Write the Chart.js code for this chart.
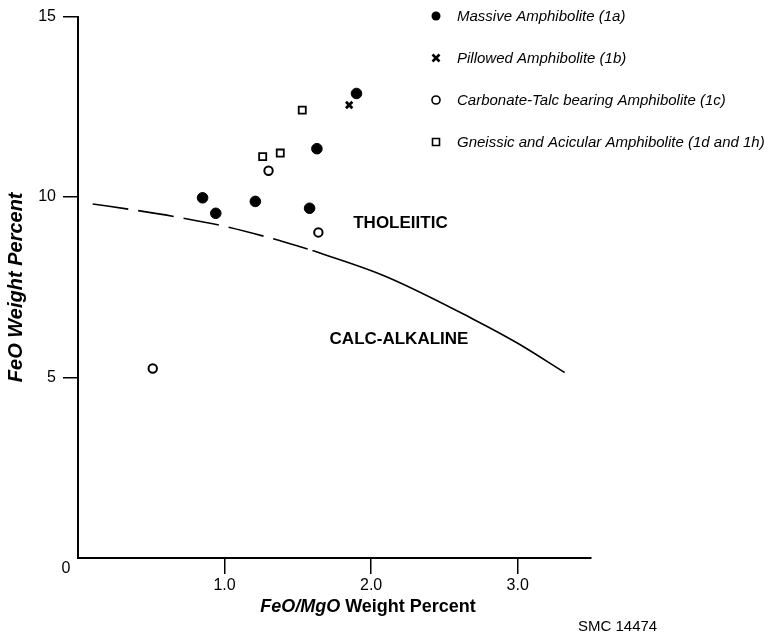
<!DOCTYPE html>
<html>
<head>
<meta charset="utf-8">
<script src="https://cdn.jsdelivr.net/npm/chart.js@4.4.1/dist/chart.umd.min.js"></script>
<style>
  body { margin: 0; background: #fff; }
  canvas { display: block; }
</style>
</head>
<body>
<canvas id="feoChart" width="779" height="635"></canvas>
<script>
// FeO vs FeO/MgO
const massive = [[1.90, 12.87], [1.63, 11.34], [0.85, 9.98], [0.94, 9.55], [1.21, 9.88], [1.58, 9.69]];
const pillowed = [[1.85, 12.55]];
const carbonate = [[1.30, 10.73], [1.64, 9.02], [0.51, 5.25]];
const gneissic = [[1.53, 12.41], [1.26, 11.12], [1.38, 11.22]];

// tholeiitic / calc-alkaline divide
const divideDashed = [[0.1, 9.81], [0.4, 9.63], [0.7, 9.43], [1.0, 9.19], [1.3, 8.88], [1.6, 8.52]];
const divideSolid = [[1.6, 8.52], [2.1, 7.80], [2.7, 6.61], [3.0, 5.95], [3.32, 5.14]];

const xTicks = [1, 2, 3];
const yTicks = [0, 5, 10, 15];

const legendLabels = [
    'Massive Amphibolite (1a)',
    'Pillowed Amphibolite (1b)',
    'Carbonate-Talc bearing Amphibolite (1c)',
    'Gneissic and Acicular Amphibolite (1d and 1h)'
];

const toXY = arr => arr.map(p => ({ x: p[0], y: p[1] }));
const FONT = '"Liberation Sans", Arial, Helvetica, sans-serif';

// legend, field labels, x title and the corner "0"
const annotate = {
    id: 'annotate',
    afterDraw(chart) {
        const ctx = chart.ctx;
        const xs = chart.scales.x, ys = chart.scales.y;
        ctx.save();
        ctx.fillStyle = '#000';
        ctx.strokeStyle = '#000';
        ctx.textBaseline = 'middle';

        // legend
        const rows = [16, 58, 100, 142];
        rows.forEach((ry, i) => {
            const mx = 436;
            ctx.lineWidth = 1.6;
            ctx.beginPath();
            if (i === 0) {
                ctx.arc(mx, ry, 4.5, 0, Math.PI * 2);
                ctx.fill();
            } else if (i === 1) {
                ctx.lineWidth = 2.6;
                ctx.moveTo(mx - 3.5, ry - 3.5); ctx.lineTo(mx + 3.5, ry + 3.5);
                ctx.moveTo(mx + 3.5, ry - 3.5); ctx.lineTo(mx - 3.5, ry + 3.5);
                ctx.stroke();
            } else if (i === 2) {
                ctx.arc(mx, ry, 4, 0, Math.PI * 2);
                ctx.stroke();
            } else {
                ctx.rect(mx - 3.5, ry - 3.5, 7, 7);
                ctx.stroke();
            }
            ctx.font = 'italic 15px ' + FONT;
            ctx.textAlign = 'left';
            ctx.fillText(legendLabels[i], 457, ry + 1);
        });

        // field names
        ctx.font = 'bold 17px ' + FONT;
        ctx.textAlign = 'center';
        ctx.fillText('THOLEIITIC', xs.getPixelForValue(2.2), ys.getPixelForValue(9.27));
        ctx.fillText('CALC-ALKALINE', xs.getPixelForValue(2.19), ys.getPixelForValue(6.07));

        // x axis title: italic oxide ratio, upright words
        const a = 'FeO/MgO', b = ' Weight Percent';
        ctx.font = 'bold italic 18px ' + FONT;
        const wa = ctx.measureText(a).width;
        ctx.font = 'bold 18px ' + FONT;
        const wb = ctx.measureText(b).width;
        const tx = 368 - (wa + wb) / 2;
        const ty = 607;
        ctx.textAlign = 'left';
        ctx.font = 'bold italic 18px ' + FONT;
        ctx.fillText(a, tx, ty);
        ctx.font = 'bold 18px ' + FONT;
        ctx.fillText(b, tx + wa, ty);

        // corner zero
        ctx.font = '16px ' + FONT;
        ctx.textAlign = 'center';
        ctx.fillText('0', 66, ys.getPixelForValue(0) + 11);

        // figure number
        ctx.font = '15px ' + FONT;
        ctx.textAlign = 'left';
        ctx.fillText('SMC 14474', 578, 627);
        ctx.restore();
    }
};

const ctxFeo = document.getElementById('feoChart').getContext('2d');
const feoChart = new Chart(ctxFeo, {
    type: 'scatter',
    data: {
        datasets: [{
            label: legendLabels[0],
            data: toXY(massive),
            pointStyle: 'circle',
            pointRadius: 5.3,
            backgroundColor: '#000',
            borderColor: '#000',
            borderWidth: 1
        }, {
            label: legendLabels[1],
            data: toXY(pillowed),
            pointStyle: 'crossRot',
            pointRadius: 4.5,
            borderColor: '#000',
            borderWidth: 2.8
        }, {
            label: legendLabels[2],
            data: toXY(carbonate),
            pointStyle: 'circle',
            pointRadius: 4.2,
            backgroundColor: '#fff',
            borderColor: '#000',
            borderWidth: 2
        }, {
            label: legendLabels[3],
            data: toXY(gneissic),
            pointStyle: 'rect',
            pointRadius: 5,
            backgroundColor: '#fff',
            borderColor: '#000',
            borderWidth: 1.8
        }, {
            label: 'divide (dashed)',
            data: toXY(divideDashed),
            showLine: true,
            pointRadius: 0,
            borderColor: '#000',
            borderWidth: 1.6,
            borderDash: [36, 10],
            cubicInterpolationMode: 'monotone'
        }, {
            label: 'divide',
            data: toXY(divideSolid),
            showLine: true,
            pointRadius: 0,
            borderColor: '#000',
            borderWidth: 1.6,
            cubicInterpolationMode: 'monotone'
        }]
    },
    options: {
        responsive: false,
        animation: false,
        layout: { padding: { top: 14, right: 188, left: 0, bottom: 0 } },
        plugins: {
            legend: { display: false },
            tooltip: { enabled: false }
        },
        scales: {
            x: {
                type: 'linear',
                min: 0,
                max: 3.5,
                afterFit: s => { s.height = 77; },
                afterBuildTicks: s => { s.ticks = [0].concat(xTicks).map(v => ({ value: v })); },
                border: { display: true, color: '#000', width: 2 },
                grid: {
                    drawOnChartArea: false,
                    drawTicks: true,
                    tickLength: 16,
                    lineWidth: 1.5,
                    color: c => (c.tick && c.tick.value === 0) ? 'rgba(0,0,0,0)' : '#000'
                },
                ticks: {
                    padding: 2,
                    color: '#000',
                    font: { family: FONT, size: 16 },
                    callback: v => v === 0 ? '' : v.toFixed(1)
                }
            },
            y: {
                type: 'linear',
                min: 0,
                max: 15,
                afterFit: s => { s.width = 78; },
                afterBuildTicks: s => { s.ticks = yTicks.map(v => ({ value: v })); },
                border: { display: true, color: '#000', width: 2 },
                grid: {
                    drawOnChartArea: false,
                    drawTicks: true,
                    tickLength: 15,
                    lineWidth: 1.5,
                    color: c => (c.tick && c.tick.value === 0) ? 'rgba(0,0,0,0)' : '#000'
                },
                ticks: {
                    padding: 7,
                    color: '#000',
                    font: { family: FONT, size: 16 },
                    callback: v => v === 0 ? '' : String(v)
                },
                title: {
                    display: true,
                    text: 'FeO Weight Percent',
                    color: '#000',
                    padding: { top: 4, bottom: 0 },
                    font: { family: FONT, size: 20, weight: 'bold', style: 'italic' }
                }
            }
        }
    },
    plugins: [annotate]
});
</script>
</body>
</html>
